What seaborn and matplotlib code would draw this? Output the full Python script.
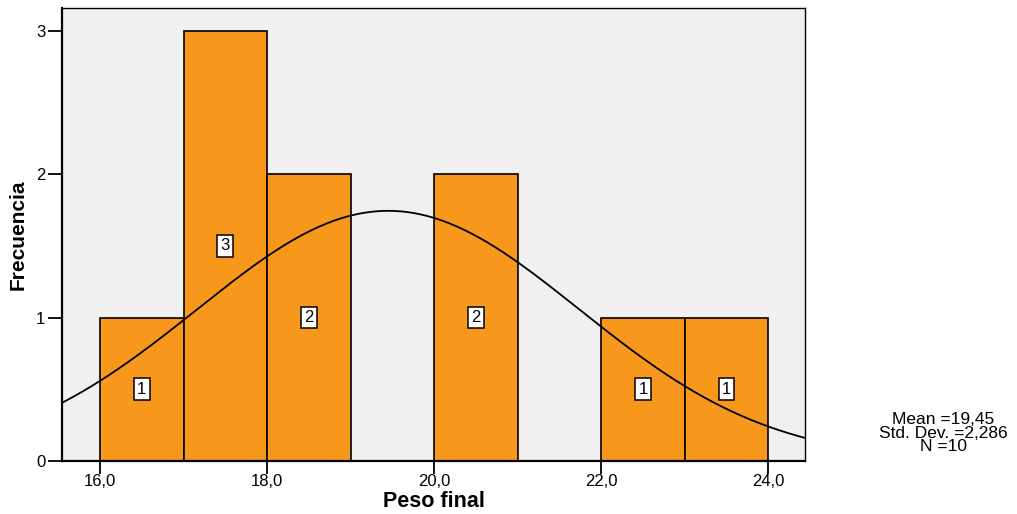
import numpy as np
import matplotlib
matplotlib.use("Agg")
import matplotlib.pyplot as plt
import seaborn as sns

# Histogram of final weight: bin edges and frequencies
bin_edges = [16.0, 17.0, 18.0, 19.0, 20.0, 21.0, 22.0, 23.0, 24.0]
frequencies = [1, 3, 2, 0, 2, 0, 1, 1]
mean_val = 19.45
std_val = 2.286
n_val = 10
x_ticks = [16.0, 18.0, 20.0, 22.0, 24.0]
y_ticks = [0, 1, 2, 3]

sns.set_theme(style="white")
plt.rcParams["font.family"] = ["Liberation Sans", "DejaVu Sans"]
plt.rcParams["text.color"] = "black"
plt.rcParams["axes.labelcolor"] = "black"
plt.rcParams["xtick.color"] = "black"
plt.rcParams["ytick.color"] = "black"


def comma(v, nd):
    return f"{v:.{nd}f}".replace(".", ",")


fig = plt.figure(figsize=(10.17, 5.14), dpi=100)
ax = fig.add_axes([62 / 1017, 1 - 461 / 514, (805 - 62) / 1017, (461 - 8) / 514])
ax.set_facecolor("#F0F0F0")

centers = [(a + b) / 2 for a, b in zip(bin_edges[:-1], bin_edges[1:])]
sns.histplot(x=centers, weights=frequencies, bins=bin_edges, ax=ax,
             color="#F7981D", alpha=1.0, edgecolor="black", linewidth=1.2)

# Count labels at mid-height of each bar
for c, f in zip(centers, frequencies):
    if f > 0:
        ax.text(c, f / 2, str(f), ha="center", va="center", fontsize=12,
                bbox=dict(boxstyle="square,pad=0.2", fc="white", ec="black", lw=1.1))

# Normal curve for the stated mean / std. dev. / N
xlim = (15.545, 24.44)
xs = np.linspace(xlim[0], xlim[1], 400)
bw = bin_edges[1] - bin_edges[0]
ys = n_val * bw / (std_val * np.sqrt(2 * np.pi)) * np.exp(-0.5 * ((xs - mean_val) / std_val) ** 2)
sns.lineplot(x=xs, y=ys, ax=ax, color="black", linewidth=1.3)

ax.set_xlim(*xlim)
ax.set_ylim(0, 3.16)
ax.set_xticks(x_ticks)
ax.set_xticklabels([comma(t, 1) for t in x_ticks], fontsize=12)
ax.set_yticks(y_ticks)
ax.set_yticklabels([str(t) for t in y_ticks], fontsize=12)
ax.tick_params(axis="both", direction="out", length=10, width=1.3, color="black",
               left=True, bottom=True, pad=2)
ax.tick_params(axis="x", length=9, pad=0)
for s in ax.spines.values():
    s.set_color("black")
    s.set_linewidth(1.0)
ax.spines["left"].set_linewidth(1.6)
ax.spines["bottom"].set_linewidth(1.6)

ax.set_xlabel("Peso final", fontsize=15.5, fontweight="bold", labelpad=2)
ax.set_ylabel("Frecuencia", fontsize=15, fontweight="bold", labelpad=6)

fig.text(943 / 1017, 1 - 433 / 514,
         f"Mean ={comma(mean_val, 2)}\nStd. Dev. ={comma(std_val, 3)}\nN ={n_val}",
         ha="center", va="center", fontsize=12.5, linespacing=0.9)

fig.savefig("out.png", dpi=100)
